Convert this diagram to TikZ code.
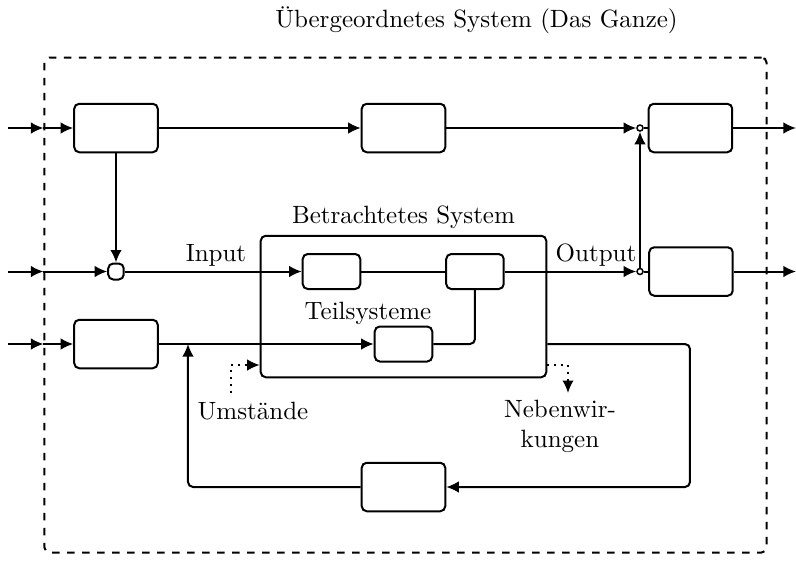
\documentclass[tikz,border=0pt]{standalone}
\usetikzlibrary{arrows.meta}
\begin{document}
\begin{tikzpicture}[x=0.4pt,y=-0.4pt, thick,
  >={Latex[length=5pt,width=4.6pt]},
  box/.style={draw,rounded corners=2pt,minimum width=33.4pt,minimum height=19.4pt,inner sep=0pt},
  sbox/.style={draw,rounded corners=2pt,minimum width=23pt,minimum height=14pt,inner sep=0pt},
  tbox/.style={draw,rounded corners=2pt,minimum width=6.2pt,minimum height=6.4pt,inner sep=0pt},
  junc/.style={circle,draw,fill=white,line width=0.6pt,inner sep=0pt,minimum size=2.4pt},
  lbl/.style={inner sep=0pt},
  fb/.style={dotted,->}]
\useasboundingbox (0,0) rectangle (796,561);

\node[draw,dashed,rounded corners=2pt,minimum width=288.8pt,minimum height=198pt,inner sep=0pt] (frame) at (405.5,305) {};
\node[lbl] (title) at (476.5,20) {Übergeordnetes System (Das Ganze)};

\node[draw,rounded corners=2pt,minimum width=114.2pt,minimum height=56.6pt,inner sep=0pt] (Bet) at (403.5,306.5) {};
\node[lbl] (betl) at (403.5,217) {Betrachtetes System};
\node[lbl] (teil) at (368,313) {Teilsysteme};

\node[box] (A) at (116,128) {};
\node[box] (B) at (403.5,128) {};
\node[box] (C) at (690.5,128) {};
\node[box] (D) at (691,271.5) {};
\node[box] (E) at (116,344) {};
\node[box] (F) at (403.5,487) {};
\node[tbox] (S) at (116,271.5) {};
\node[sbox] (T1) at (331.5,271.5) {};
\node[sbox] (T2) at (475,271.5) {};
\node[sbox] (T3) at (403.5,344) {};
\node[junc] (c1) at (640,128) {};
\node[junc] (c2) at (640,271.5) {};

\coordinate (in1) at (8,128);
\coordinate (in2) at (8,271.5);
\coordinate (in3) at (8,344);
\coordinate (out1) at (796,128);
\coordinate (out2) at (796,271.5);
\coordinate (fr) at (690,487);
\coordinate (fl) at (188,344);
\coordinate (uy) at (0,365);
\coordinate (u0) at (231,393);
\coordinate (n0) at (568,393);

% inputs
\draw[->] (in1) -- (frame.west |- in1);
\draw[->] (frame.west |- in1) -- (A);
\draw[->] (in2) -- (frame.west |- in2);
\draw[->] (frame.west |- in2) -- (S);
\draw[->] (in3) -- (frame.west |- in3);
\draw[->] (frame.west |- in3) -- (E);

% top row
\draw[->] (A) -- (S);
\draw[->] (A) -- (B);
\draw[->] (B) -- (c1);
\draw (c1) -- (C);
\draw[->] (C) -- (out1);

% middle row
\draw[->] (S) -- (T1);
\draw (T1) -- (T2);
\draw[->] (T2) -- (c2);
\draw (c2) -- (D);
\draw[->] (c2) -- (c1);
\draw[->] (D) -- (out2);

% bottom row
\draw[->] (E) -- (T3);
\draw[rounded corners=2pt] (T3) -| (T2);
\draw[->,rounded corners=2pt] (Bet.east |- E) -| (fr) -- (F);
\draw[->,rounded corners=2pt] (F) -| (fl);

% dotted
\draw[fb] (u0) |- (Bet.west |- uy);
\draw[fb] (Bet.east |- uy) -| (n0);

% labels
\node[lbl] (inl) at (216,255) {Input};
\node[lbl] (outl) at (596,255) {Output};
\node[lbl] (uml) at (253,411) {Umstände};
\node[lbl,align=center] (nebl) at (560,426) {Nebenwir-\\kungen};
\end{tikzpicture}
\end{document}
